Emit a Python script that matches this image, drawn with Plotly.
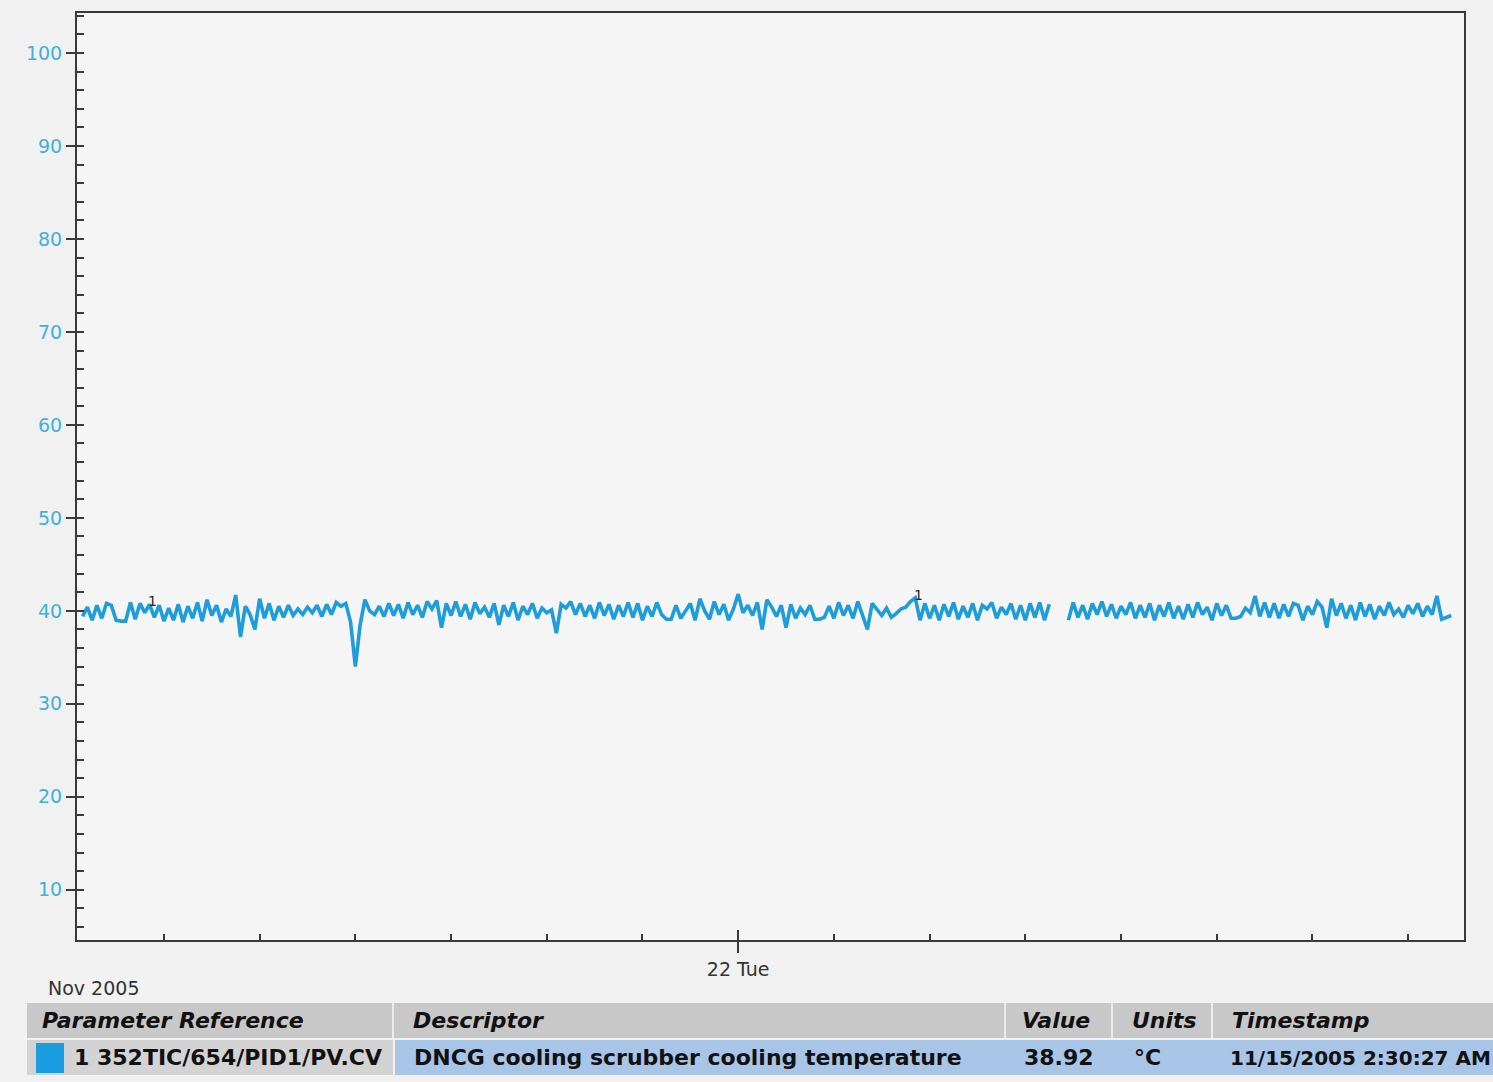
import pandas as pd
import plotly.graph_objects as go

# Trend of DNCG cooling scrubber temperature, one sample every 6 minutes
sample_start = "2005-11-21 10:18"
sample_step = "6min"

temperature_c = [
    39.4, 40.4, 39.0, 40.6, 39.2, 40.8, 40.6, 39.0, 38.9, 38.9,
    40.9, 39.1, 40.8, 39.8, 40.7, 39.3, 40.6, 38.9, 40.3, 39.0,
    40.7, 38.8, 40.5, 39.2, 40.9, 38.9, 41.2, 39.5, 40.6, 38.8,
    40.2, 39.4, 41.7, 37.2, 40.5, 39.6, 38.0, 41.3, 39.2, 40.8,
    39.0, 40.5, 39.3, 40.6, 39.5, 40.2, 39.6, 40.4, 39.8, 40.6,
    39.4, 40.7, 39.6, 40.9, 40.5, 40.8, 38.8, 34.0, 38.5, 41.2,
    40.0, 39.6, 40.5, 39.4, 40.8, 39.5, 40.7, 39.2, 40.9, 39.6,
    40.6, 39.3, 41.0, 40.2, 41.1, 38.2, 40.8, 39.5, 41.0, 39.4,
    40.7, 39.1, 40.9, 39.7, 40.4, 39.3, 40.8, 38.5, 40.6, 39.4,
    40.9, 39.0, 40.5, 39.6, 40.8, 39.2, 40.3, 39.8, 40.1, 37.6,
    40.7, 40.3, 41.0, 39.6, 40.8, 39.4, 40.6, 39.2, 40.9, 39.5,
    40.7, 39.1, 40.6, 39.4, 40.9, 39.3, 40.8, 39.0, 40.5, 39.4,
    40.9, 39.6, 39.1, 39.1, 40.6, 39.2, 40.0, 40.8, 39.0, 41.3,
    40.0, 39.1, 41.0, 39.6, 40.7, 39.0, 40.2, 41.8, 39.8, 40.6,
    39.5, 40.9, 38.0, 41.2, 40.4, 39.4, 40.6, 38.2, 40.7, 39.2,
    40.3, 39.6, 40.6, 39.1, 39.1, 39.3, 40.5, 39.2, 40.9, 39.5,
    40.6, 39.2, 41.0, 39.4, 38.0, 40.8, 40.1, 39.5, 40.3, 39.3,
    39.7, 40.2, 40.4, 41.0, 41.4, 39.0, 40.8, 39.2, 40.6, 39.0,
    40.7, 39.4, 40.9, 39.1, 40.5, 39.3, 40.8, 39.0, 40.6, 40.2,
    40.9, 39.2, 40.4, 39.6, 40.8, 39.1, 40.6, 39.0, 40.8, 39.3,
    40.9, 39.0, 40.7, None, None, None, 39.0, 40.9, 39.3, 40.6,
    39.1, 40.8, 39.6, 41.0, 39.4, 40.7, 39.2, 40.5, 39.6, 40.9,
    39.2, 40.6, 39.3, 40.8, 39.0, 40.6, 39.4, 40.9, 39.2, 40.5,
    39.1, 40.7, 39.3, 40.9, 39.6, 40.4, 39.0, 40.8, 39.5, 40.6,
    39.2, 39.2, 39.4, 40.3, 39.8, 41.6, 39.4, 40.9, 39.3, 40.8,
    39.2, 40.7, 39.4, 40.8, 40.6, 39.0, 40.5, 39.6, 41.0, 40.4,
    38.2, 41.3, 39.5, 40.8, 39.2, 40.6, 39.0, 40.9, 39.4, 40.7,
    39.1, 40.5, 39.5, 40.9, 39.6, 40.2, 39.3, 40.6, 39.7, 40.8,
    39.4, 40.5, 39.6, 41.6, 39.1, 39.3, 39.5,
]

# Sample indices that carry the pen number "1"
pen_marker_idx = [14, 174]

x_range = ["2005-11-21 10:11", "2005-11-22 15:10"]
y_range = [4.6, 104.3]
day_tick = "2005-11-22 00:00"
day_label = "22 Tue"
period_label = "Nov 2005"

header_cells = ["Parameter Reference", "Descriptor", "Value", "Units", "Timestamp"]
row_cells = ["1 352TIC/654/PID1/PV.CV", "DNCG cooling scrubber cooling temperature",
             "38.92", "°C", "11/15/2005 2:30:27 AM"]

times = pd.date_range(sample_start, periods=len(temperature_c), freq=sample_step)

PEN = "#1f9dda"
LABEL_BLUE = "#3fb0dc"
FRAME = "#3a3a3a"
SANS = "DejaVu Sans, Liberation Sans, Arial"

W, H = 1493, 1082
L, R, T, B = 77, 1464, 13, 940


def px(xp):
    return (xp - L) / (R - L)


def py(yp):
    return (B - yp) / (B - T)


fig = go.Figure()
fig.add_trace(go.Scatter(
    x=times, y=temperature_c, mode="lines",
    line=dict(color=PEN, width=3.6), connectgaps=False,
    showlegend=False, hoverinfo="x+y",
))
# carrier traces for the overlaid tick axes
fig.add_trace(go.Scatter(x=times, y=temperature_c, xaxis="x2", yaxis="y2",
                         mode="none", showlegend=False, hoverinfo="skip"))
fig.add_trace(go.Scatter(x=times, y=temperature_c, xaxis="x3", yaxis="y2",
                         mode="none", showlegend=False, hoverinfo="skip"))

annotations = []
for i in pen_marker_idx:
    annotations.append(dict(
        x=times[i], y=temperature_c[i], xref="x", yref="y", text="1",
        showarrow=False, yshift=3, xshift=3, font=dict(family=SANS, size=14, color="#2a2a2a"),
    ))

annotations.append(dict(
    x=px(46), y=py(988), xref="paper", yref="paper", text=period_label,
    showarrow=False, xanchor="left", yanchor="middle",
    font=dict(family=SANS, size=19, color="#333"),
))

# Legend table below the chart
col_edges = [27, 393, 1005, 1112, 1212, 1493]
text_x = [40, 411, 1020, 1130, 1230]
row_text_x = [72, 412, 1022, 1132, 1228]
row_sizes = [22, 22, 22, 22, 20]
head_top, head_bot = 1003, 1038
row_top, row_bot = 1040, 1075

shapes = []
shapes.append(dict(type="rect", xref="paper", yref="paper",
                   x0=px(27), x1=px(1493), y0=py(head_bot), y1=py(head_top),
                   fillcolor="#c8c8c8", line=dict(width=0), layer="below"))
shapes.append(dict(type="rect", xref="paper", yref="paper",
                   x0=px(27), x1=px(393), y0=py(row_bot), y1=py(row_top),
                   fillcolor="#d3d3d3", line=dict(width=0), layer="below"))
shapes.append(dict(type="rect", xref="paper", yref="paper",
                   x0=px(395), x1=px(1493), y0=py(row_bot), y1=py(row_top),
                   fillcolor="#a8c5e8", line=dict(width=0), layer="below"))
shapes.append(dict(type="rect", xref="paper", yref="paper",
                   x0=px(36), x1=px(64), y0=py(1073), y1=py(1043),
                   fillcolor="#1a9de0", line=dict(width=0), layer="below"))
for e in col_edges[1:-1]:
    shapes.append(dict(type="line", xref="paper", yref="paper",
                       x0=px(e), x1=px(e), y0=py(head_bot), y1=py(head_top),
                       line=dict(color="#ececec", width=2)))

for tx, label in zip(text_x, header_cells):
    annotations.append(dict(
        x=px(tx), y=py((head_top + head_bot) / 2), xref="paper", yref="paper",
        text=f"<b><i>{label}</i></b>", showarrow=False, xanchor="left", yanchor="middle",
        font=dict(family=SANS, size=22, color="#111"),
    ))
for tx, label, fs in zip(row_text_x, row_cells, row_sizes):
    annotations.append(dict(
        x=px(tx), y=py((row_top + row_bot) / 2), xref="paper", yref="paper",
        text=f"<b>{label}</b>", showarrow=False, xanchor="left", yanchor="middle",
        font=dict(family=SANS, size=fs, color="#111"),
    ))

fig.update_layout(
    width=W, height=H,
    margin=dict(l=L, r=W - R, t=T, b=H - B),
    paper_bgcolor="#f1f1f1",
    plot_bgcolor="#f5f5f5",
    font=dict(family=SANS),
    showlegend=False,
    xaxis=dict(
        type="date", range=x_range, showgrid=False, zeroline=False,
        showline=True, linecolor=FRAME, linewidth=2, mirror=True,
        tickmode="array", tickvals=[day_tick], ticktext=[day_label],
        ticks="outside", ticklen=11, tickwidth=2, tickcolor=FRAME,
        tickfont=dict(size=19, color="#333"),
    ),
    xaxis2=dict(
        type="date", range=x_range, overlaying="x", anchor="y", side="bottom",
        showgrid=False, zeroline=False, showline=False, showticklabels=False,
        tick0=day_tick, dtick=2 * 3600 * 1000,
        ticks="inside", ticklen=6, tickwidth=1.5, tickcolor=FRAME,
    ),
    xaxis3=dict(
        type="date", range=x_range, overlaying="x", anchor="y", side="bottom",
        showgrid=False, zeroline=False, showline=False, showticklabels=False,
        tickmode="array", tickvals=[day_tick],
        ticks="inside", ticklen=10, tickwidth=2, tickcolor=FRAME,
    ),
    yaxis=dict(
        range=y_range, showgrid=False, zeroline=False,
        showline=True, linecolor=FRAME, linewidth=2, mirror=True,
        tick0=0, dtick=10, ticks="outside", ticklen=9, tickwidth=2, tickcolor=FRAME,
        tickfont=dict(size=19, color=LABEL_BLUE),
    ),
    yaxis2=dict(
        range=y_range, overlaying="y", anchor="x", side="left",
        showgrid=False, zeroline=False, showline=False, showticklabels=False,
        tick0=0, dtick=2, ticks="inside", ticklen=7, tickwidth=2, tickcolor=FRAME,
    ),
    shapes=shapes,
    annotations=annotations,
)

fig.write_html("out.html")
